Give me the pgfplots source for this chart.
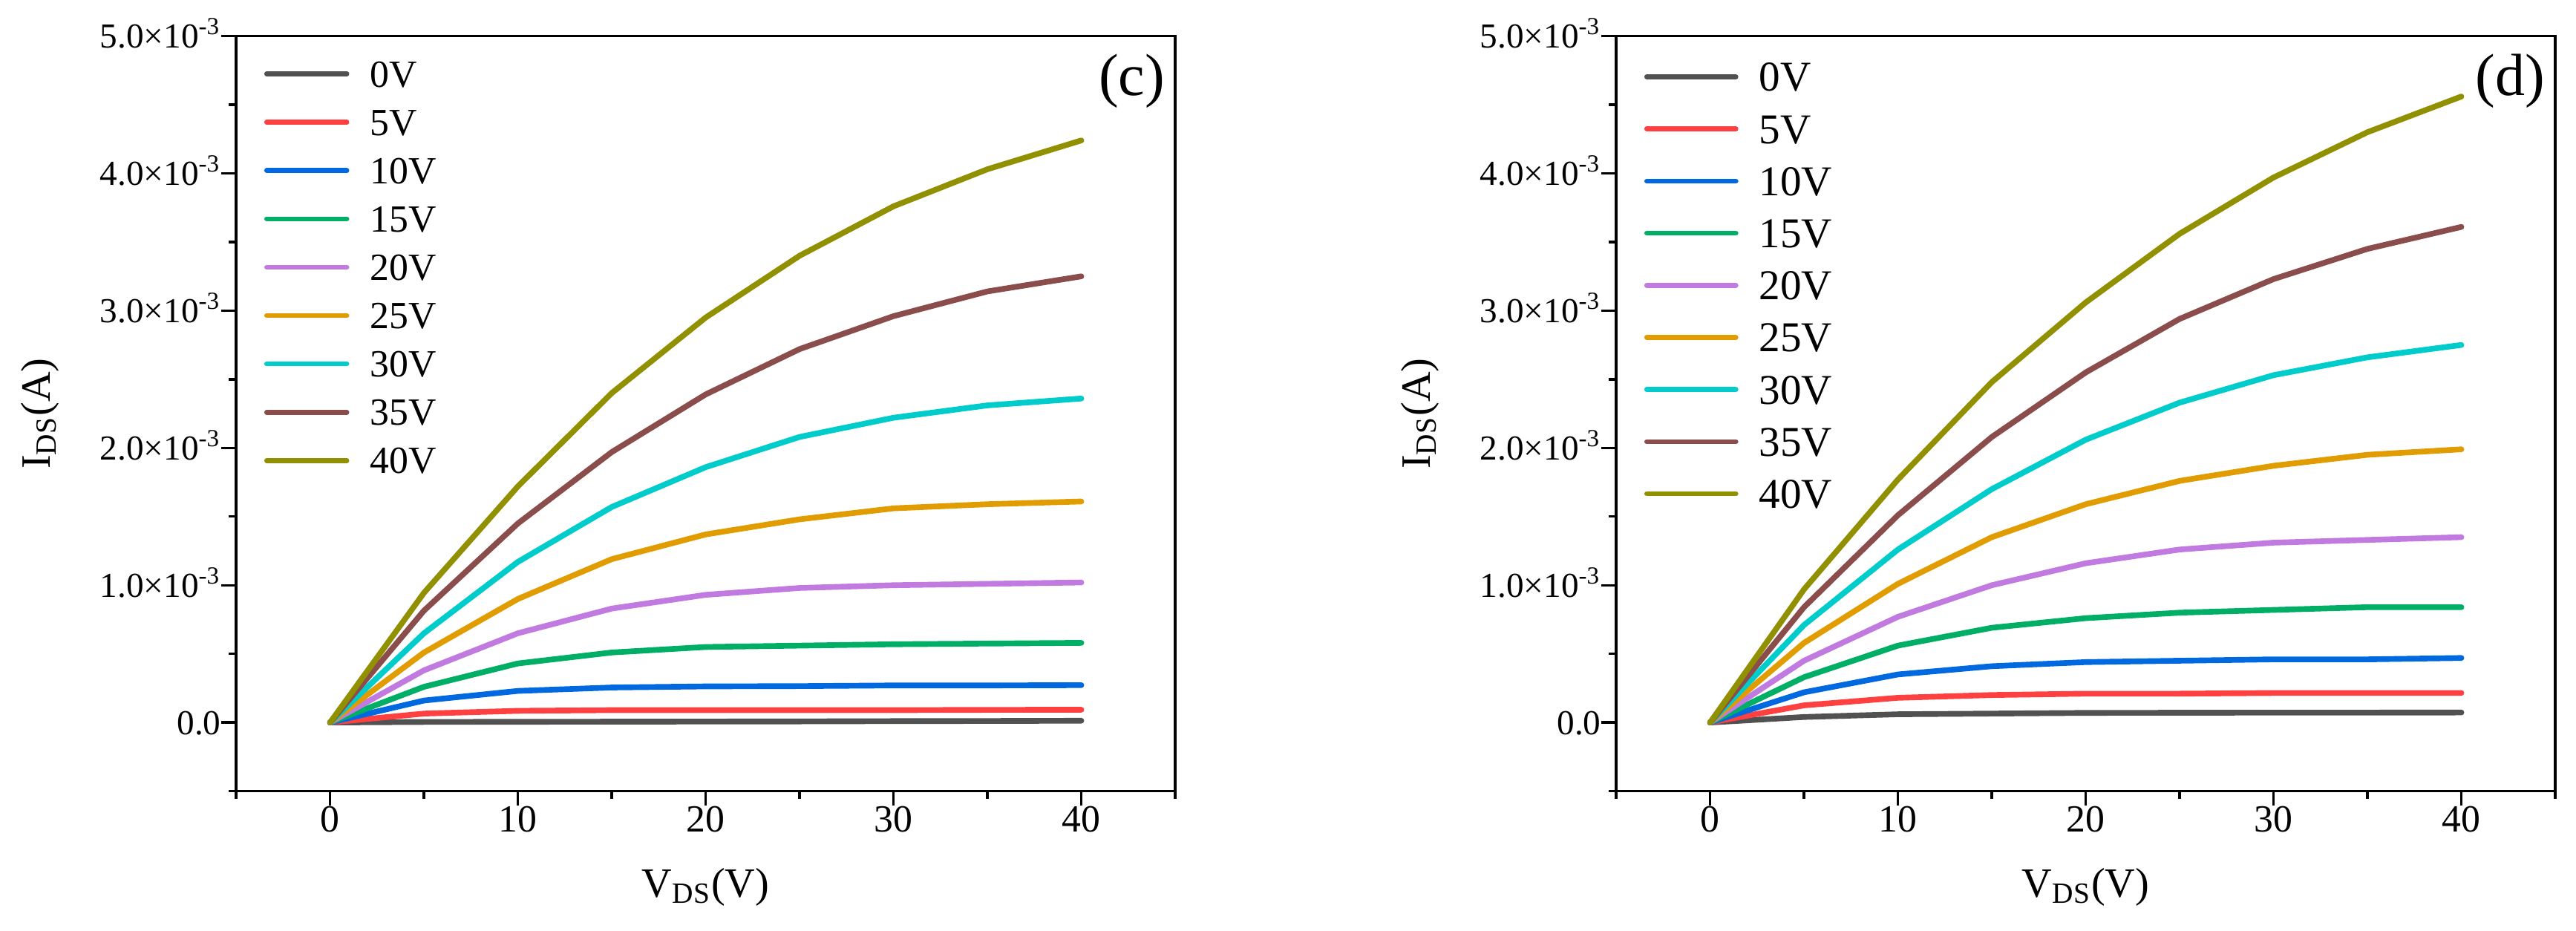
\documentclass[border=0pt]{standalone}
\usepackage{fontspec}
\setmainfont{Liberation Serif}
\usepackage{pgfplots}
\usepackage{pgfplotstable}
\pgfplotsset{compat=1.18}

\definecolor{c0}{HTML}{515151}
\definecolor{c5}{HTML}{FF4040}
\definecolor{c10}{HTML}{0069E0}
\definecolor{c15}{HTML}{00AE66}
\definecolor{c20}{HTML}{C17BE0}
\definecolor{c25}{HTML}{E09C00}
\definecolor{c30}{HTML}{00CCCC}
\definecolor{c35}{HTML}{8B4C4C}
\definecolor{c40}{HTML}{909000}

% I_DS in units of 1e-3 A
\pgfplotstableread{
x  v0    v5    v10   v15   v20   v25   v30   v35   v40
0  0     0     0     0     0     0     0     0     0
5  0.004 0.065 0.16  0.26  0.38  0.51  0.65  0.815 0.945
10 0.005 0.085 0.23  0.43  0.65  0.90  1.17  1.45  1.72
15 0.006 0.090 0.255 0.51  0.83  1.19  1.57  1.97  2.40
20 0.007 0.090 0.263 0.55  0.93  1.37  1.86  2.39  2.95
25 0.008 0.090 0.265 0.56  0.98  1.48  2.08  2.72  3.40
30 0.010 0.090 0.270 0.57  1.00  1.56  2.22  2.96  3.76
35 0.011 0.092 0.270 0.575 1.01  1.59  2.31  3.14  4.03
40 0.013 0.093 0.272 0.58  1.02  1.61  2.36  3.25  4.24
}\tabC

\pgfplotstableread{
x  v0    v5    v10   v15   v20   v25   v30   v35   v40
0  0     0     0     0     0     0     0     0     0
5  0.040 0.125 0.22  0.33  0.45  0.58  0.71  0.84  0.97
10 0.060 0.180 0.35  0.56  0.77  1.01  1.26  1.51  1.77
15 0.065 0.200 0.41  0.69  1.00  1.35  1.70  2.08  2.48
20 0.070 0.210 0.44  0.76  1.16  1.59  2.06  2.55  3.06
25 0.071 0.210 0.45  0.80  1.26  1.76  2.33  2.94  3.56
30 0.072 0.215 0.46  0.82  1.31  1.87  2.53  3.23  3.97
35 0.072 0.215 0.46  0.84  1.33  1.95  2.66  3.45  4.30
40 0.073 0.215 0.47  0.84  1.35  1.99  2.75  3.61  4.56
}\tabD

\pgfplotsset{
  panel/.style={
    scale only axis, width=281.1pt, height=226pt,
    xmin=-5, xmax=45, ymin=-0.5, ymax=5,
    xtick={0,10,20,30,40}, xticklabels={0,10,20,30,40},
    minor xtick={-5,5,15,25,35,45},
    ytick={0,1,2,3,4,5},
    yticklabels={0.0,1.0×10\textsuperscript{-3},2.0×10\textsuperscript{-3},3.0×10\textsuperscript{-3},4.0×10\textsuperscript{-3},5.0×10\textsuperscript{-3}},
    minor ytick={-0.5,0.5,1.5,2.5,3.5,4.5},
    xtick pos=bottom, ytick pos=left, tick align=outside,
    major tick length=4.4pt, minor tick length=2.2pt,
    tick style={black, line width=0.75pt},
    axis line style={black, line width=0.75pt},
    xticklabel style={font=\fontsize{11.5}{13}\selectfont, inner sep=0pt, anchor=north},
    yticklabel style={font=\fontsize{10.5}{12}\selectfont, inner sep=0pt, anchor=base east, yshift=-3.55pt},
    xlabel={V\textsubscript{DS}(V)},
    ylabel={I\textsubscript{DS}(A)},
    xlabel style={at={(axis description cs:0.5,-0.1402)}, anchor=base, inner sep=0pt, font=\fontsize{12.5}{14}\selectfont},
    ylabel style={at={(axis description cs:-0.1985,0.5)}, anchor=base, inner sep=0pt, font=\fontsize{12.5}{14}\selectfont},
    every axis plot/.append style={line width=1.7pt, line join=round, line cap=round},
    no markers,
    legend cell align=left,
  }
}

\begin{document}
\begin{tikzpicture}
\begin{axis}[panel, at={(0pt,0pt)}, anchor=south west,
  legend image code/.code={\draw[#1,line width=1.45pt,line cap=round] (0pt,0pt) -- (24pt,0pt);},
  legend style={draw=none, fill=none, at={(rel axis cs:0,1)}, anchor=north west,
    xshift=8.4pt, yshift=-7.4pt, inner sep=0pt, outer sep=0pt,
    font=\fontsize{11.5}{13}\selectfont, row sep=6.67pt, column sep=6.3pt,
    nodes={inner sep=0pt, text height=7.8pt, text depth=0pt}},
]
\addplot[c0]  table[x=x,y=v0]  {\tabC}; \addlegendentry{0V}
\addplot[c5]  table[x=x,y=v5]  {\tabC}; \addlegendentry{5V}
\addplot[c10] table[x=x,y=v10] {\tabC}; \addlegendentry{10V}
\addplot[c15] table[x=x,y=v15] {\tabC}; \addlegendentry{15V}
\addplot[c20] table[x=x,y=v20] {\tabC}; \addlegendentry{20V}
\addplot[c25] table[x=x,y=v25] {\tabC}; \addlegendentry{25V}
\addplot[c30] table[x=x,y=v30] {\tabC}; \addlegendentry{30V}
\addplot[c35] table[x=x,y=v35] {\tabC}; \addlegendentry{35V}
\addplot[c40] table[x=x,y=v40] {\tabC}; \addlegendentry{40V}
\node[anchor=north east, inner sep=0pt, xshift=-2.9pt, yshift=-5.3pt, font=\fontsize{17.8}{20}\selectfont] at (rel axis cs:1,1) {(c)};
\end{axis}

\begin{axis}[panel, at={(413.1pt,0pt)}, anchor=south west,
  legend image code/.code={\draw[#1,line width=1.45pt,line cap=round] (0pt,0pt) -- (26.7pt,0pt);},
  legend style={draw=none, fill=none, at={(rel axis cs:0,1)}, anchor=north west,
    xshift=8.4pt, yshift=-7.9pt, inner sep=0pt, outer sep=0pt,
    font=\fontsize{12.7}{14}\selectfont, row sep=7.0pt, column sep=6.2pt,
    nodes={inner sep=0pt, text height=8.6pt, text depth=0pt}},
]
\addplot[c0]  table[x=x,y=v0]  {\tabD}; \addlegendentry{0V}
\addplot[c5]  table[x=x,y=v5]  {\tabD}; \addlegendentry{5V}
\addplot[c10] table[x=x,y=v10] {\tabD}; \addlegendentry{10V}
\addplot[c15] table[x=x,y=v15] {\tabD}; \addlegendentry{15V}
\addplot[c20] table[x=x,y=v20] {\tabD}; \addlegendentry{20V}
\addplot[c25] table[x=x,y=v25] {\tabD}; \addlegendentry{25V}
\addplot[c30] table[x=x,y=v30] {\tabD}; \addlegendentry{30V}
\addplot[c35] table[x=x,y=v35] {\tabD}; \addlegendentry{35V}
\addplot[c40] table[x=x,y=v40] {\tabD}; \addlegendentry{40V}
\node[anchor=north east, inner sep=0pt, xshift=-2.9pt, yshift=-5.3pt, font=\fontsize{17.8}{20}\selectfont] at (rel axis cs:1,1) {(d)};
\end{axis}
\pgfresetboundingbox
\useasboundingbox (-70.7pt,-41.7pt) rectangle (700.4pt,236.8pt);
\end{tikzpicture}
\end{document}
